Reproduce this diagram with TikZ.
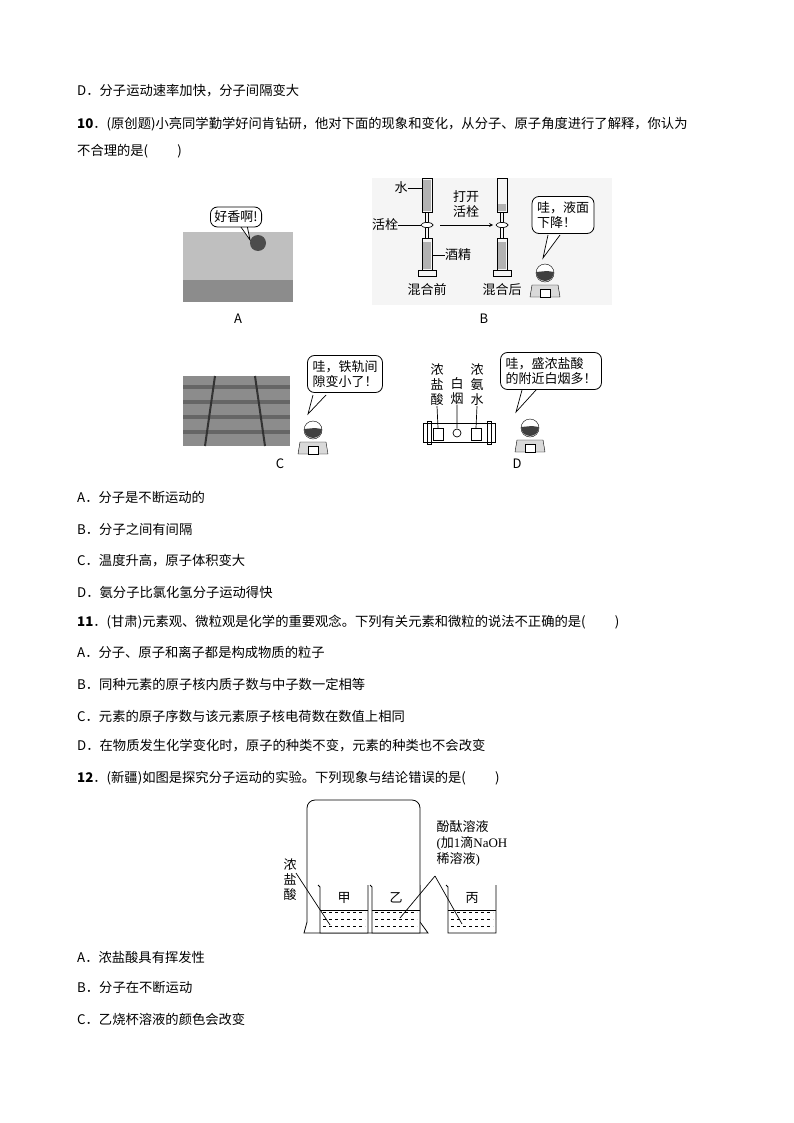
\documentclass[tikz,border=0pt]{standalone}
\usepackage{fontspec}
\setmainfont{Liberation Serif}
\newfontfamily\cjk{Noto Sans CJK SC}
\begin{document}
\begin{tikzpicture}[x=1pt,y=-1pt,
  txt/.style={anchor=west,inner sep=0pt,font=\cjk\fontsize{13.3}{15}\selectfont},
  lab/.style={inner sep=0pt,font=\cjk\fontsize{13}{15}\selectfont},
  bub/.style={draw,rounded corners=7pt,line width=0.8pt,fill=white},
  ln/.style={line width=0.7pt}]
\useasboundingbox[fill=white] (0,0) rectangle (794,1123);
\newcommand{\kid}[2]{%
  \draw[fill=black!15] (#1-15,#2+22) -- (#1-13,#2+10) -- (#1+13,#2+10) -- (#1+15,#2+22) -- cycle;
  \draw[fill=white] (#1-5,#2+22) rectangle (#1+5,#2+14);
  \draw[fill=white] (#1,#2-2) circle (9);
  \fill[black!75] (#1-9,#2-3) arc (180:0:9) -- (#1+2,#2-4) -- cycle;}
% texts
\node[txt] (t1) at (77,91) {D．分子运动速率加快，分子间隔变大};
\node[txt] (t2) at (77,124) {\textbf{10}．(原创题)小亮同学勤学好问肯钻研，他对下面的现象和变化，从分子、原子角度进行了解释，你认为};
\node[txt] (t3) at (77,151) {不合理的是(\hspace{2.2em})};
\node[txt] (t4) at (77,497) {A．分子是不断运动的};
\node[txt] (t5) at (77,529) {B．分子之间有间隔};
\node[txt] (t6) at (77,561) {C．温度升高，原子体积变大};
\node[txt] (t7) at (77,592) {D．氨分子比氯化氢分子运动得快};
\node[txt] (t8) at (77,622) {\textbf{11}．(甘肃)元素观、微粒观是化学的重要观念。下列有关元素和微粒的说法不正确的是(\hspace{2.2em})};
\node[txt] (t9) at (77,652) {A．分子、原子和离子都是构成物质的粒子};
\node[txt] (t10) at (77,684) {B．同种元素的原子核内质子数与中子数一定相等};
\node[txt] (t11) at (77,716) {C．元素的原子序数与该元素原子核电荷数在数值上相同};
\node[txt] (t12) at (77,746) {D．在物质发生化学变化时，原子的种类不变，元素的种类也不会改变};
\node[txt] (t13) at (77,778) {\textbf{12}．(新疆)如图是探究分子运动的实验。下列现象与结论错误的是(\hspace{2.2em})};
\node[txt] (t14) at (77,957) {A．浓盐酸具有挥发性};
\node[txt] (t15) at (77,987) {B．分子在不断运动};
\node[txt] (t16) at (77,1019) {C．乙烧杯溶液的颜色会改变};
% A photo
\fill[black!25] (183,232) rectangle (293,302);
\fill[black!45] (183,280) rectangle (293,302);
\fill[black!70] (258,243) circle (8);
\draw[ln,fill=white] (236,220) -- (250,240) -- (246,220);
\node[bub,lab,inner sep=4pt] (ba) at (236,217) {好香啊!};
\node[lab] (la) at (238,319) {A};
% B
\fill[black!4] (372,178) rectangle (612,305);
\foreach \x in {427,502} {
  \draw[ln] (\x-5,178) rectangle (\x+5,212);
  \draw[ln] (\x-5,238) rectangle (\x+5,270);
  \draw[ln] (\x-1.5,212) -- (\x-1.5,238) (\x+1.5,212) -- (\x+1.5,238);
  \draw[ln,fill=white] (\x,225) ellipse (6 and 2.5);
  \draw[ln] (\x-9,270) rectangle (\x+9,276);
  \fill[black!30] (\x-4,242) rectangle (\x+4,269);}
\fill[black!30] (423,180) rectangle (431,211);
\fill[black!30] (498,204) rectangle (506,211);
\node[lab] (water) at (401,188) {水};
\draw[ln] (water.east) -- (422,188);
\node[lab] (valve) at (385,225) {活栓};
\draw[ln] (valve.east) -- (421,225);
\node[lab] (alc) at (458,255) {酒精};
\draw[ln] (alc.west) -- (432,255);
\node[lab,align=center] (open) at (466,204) {打开\\活栓};
\coordinate (a1) at (440,225); \coordinate (a2) at (493,225);
\draw[ln,-stealth] (a1) -- (a2);
\node[lab] (before) at (427,290) {混合前};
\node[lab] (after) at (502,290) {混合后};
\draw[ln,fill=white] (548,235) -- (543,258) -- (560,235);
\node[bub,lab,align=left,inner sep=5pt] (bb) at (563,215) {哇，液面\\下降！};
\kid{545}{275}
\node[lab] (lb) at (484,319) {B};
% C
\fill[black!45] (183,376) rectangle (290,446);
\foreach \y in {385,400,415,430} \fill[black!60] (183,\y) rectangle (290,\y+4);
\draw[black!80,line width=2pt] (215,376) -- (205,446) (255,376) -- (265,446);
\draw[ln,fill=white] (313,395) -- (308,414) -- (326,395);
\node[bub,lab,align=left,inner sep=5pt] (bc) at (345,374) {哇，铁轨间\\隙变小了！};
\kid{313}{432}
\node[lab] (lc) at (280,464) {C};
% D
\node[lab,align=center] (d1) at (437,385) {浓\\盐\\酸};
\node[lab,align=center] (d2) at (457,391) {白\\烟};
\node[lab,align=center] (d3) at (477,385) {浓\\氨\\水};
\draw[ln] (423,423) rectangle (495,442);
\draw[ln] (427,421) rectangle (431,444) (487,421) rectangle (491,444);
\draw[ln] (433,428) rectangle (443,440) (471,428) rectangle (481,440);
\draw[ln] (d1.south) -- (438,428) (d2.south) -- (457,428) (d3.south) -- (476,428);
\draw[ln] (457,433) circle (4);
\draw[ln,fill=white] (522,390) -- (516,412) -- (536,390);
\node[bub,lab,align=left,inner sep=5pt] (bd) at (551,371) {哇，盛浓盐酸\\的附近白烟多！};
\kid{530}{430}
\node[lab] (ld) at (517,464) {D};
% Q12 figure
\draw[line width=0.8pt,rounded corners=8pt] (307,922) -- (307,800) -- (420,800) -- (420,922);
\draw[line width=0.8pt] (307,922) -- (304,933) -- (428,933) -- (420,922);
\foreach \xa/\nm in {320/甲,372/乙,448/丙} {
  \draw[line width=0.8pt,fill=white] (\xa-2,885) -- (\xa,887) -- (\xa,933) -- (\xa+48,933) -- (\xa+48,885);
  \node[lab] at (\xa+24,898) {\nm};
  \foreach \y in {912,919,926} \draw[dashed,line width=0.6pt] (\xa+3,\y) -- (\xa+45,\y);
  \draw[line width=0.6pt] (\xa,910) -- (\xa+48,910);}
\node[lab,align=center] (hcl) at (290,880) {浓\\盐\\酸};
\draw[ln] (296,873) -- (330,925);
\node[lab,align=left,font=\fontsize{13}{16}\selectfont] (phe) at (472,843) {{\cjk 酚酞溶液}\\({\cjk 加}1{\cjk 滴}NaOH\\{\cjk 稀溶液})};
\coordinate (p0) at (435,876);
\draw[ln] (p0) -- (400,918);
\draw[ln] (p0) -- (462,924);
\end{tikzpicture}
\end{document}
